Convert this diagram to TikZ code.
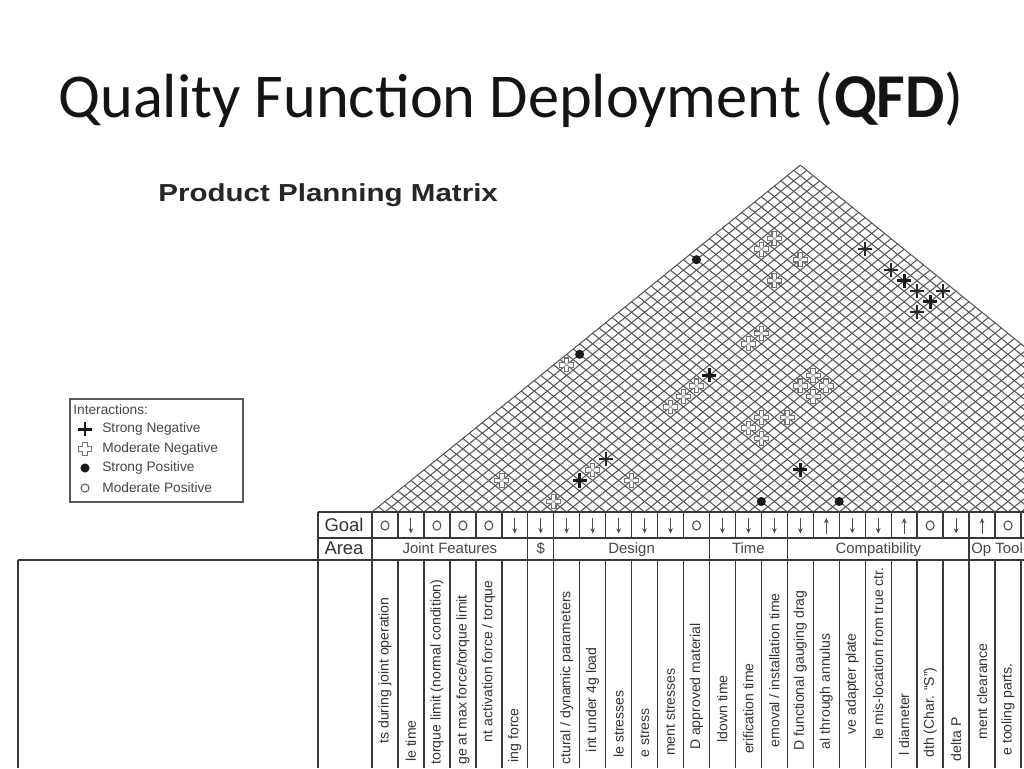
\documentclass[tikz,border=0pt]{standalone}
\usepackage{fontspec}
\setmainfont{Liberation Sans}
\newfontfamily\titlefont{Carlito}
\usetikzlibrary{arrows.meta}
\tikzset{
  grid/.style={draw=black!78, line width=0.8pt},
  lattice/.style={draw=black!66, line width=0.6pt},
  goalsym/.style={draw=black!70, line width=0.6pt},
  goalarrow/.style={draw=black!70, line width=0.6pt, -{Stealth[length=3pt,width=2.6pt]}},
  bodytext/.style={rotate=90, anchor=east, inner sep=0pt, text=black!80, font=\fontsize{8}{9}\selectfont},
  bodytextlow/.style={bodytext, anchor=west},
  areatext/.style={anchor=base, inner sep=0pt, text=black!72, font=\fontsize{8.5}{9}\selectfont},
  labeltext/.style={anchor=base, inner sep=0pt, text=black!80, font=\fontsize{10.5}{11}\selectfont},
  legendtext/.style={anchor=west, inner sep=0pt, text=black!72, font=\fontsize{7.8}{8}\selectfont},
  mnegline/.style={draw=black!55, fill=white, fill opacity=0.5, line width=0.6pt},
  pics/mneg/.style={code={\draw[mnegline] (-1.3pt,-3.9pt) -- (1.3pt,-3.9pt) -- (1.3pt,-1.3pt) -- (3.9pt,-1.3pt) -- (3.9pt,1.3pt) -- (1.3pt,1.3pt) -- (1.3pt,3.9pt) -- (-1.3pt,3.9pt) -- (-1.3pt,1.3pt) -- (-3.9pt,1.3pt) -- (-3.9pt,-1.3pt) -- (-1.3pt,-1.3pt) -- cycle;}},
  pics/snegbold/.style={code={\draw[black!90, line width=1.7pt] (-4pt,0) -- (4pt,0) (0,-4pt) -- (0,4pt);}},
  pics/snegthin/.style={code={\draw[black!85, line width=1.1pt] (-4pt,0) -- (4pt,0) (0,-4pt) -- (0,4pt);}},
  pics/spos/.style={code={\fill[black!90] (0,0) circle (2.6pt);}},
  pics/mpos/.style={code={\draw[black!65, line width=0.6pt] (0,0) circle (2.3pt);}},
}
\begin{document}
\begin{tikzpicture}[x=0.02cm, y=-0.02cm]
\useasboundingbox (0,0) rectangle (1024,768);
\fill[white] (0,0) rectangle (1024,768);
\begin{scope}
\clip (0,0) rectangle (1024,768);

% Title
\node[anchor=base west, inner sep=0pt, text=black!92, font=\titlefont\fontsize{35.5}{38}\selectfont] (title) at (58,117) {Quality Function Deployment (\textbf{QFD})};
\node[anchor=base west, inner sep=0pt, xscale=1.2, text=black!85, font=\bfseries\fontsize{14}{16}\selectfont] (subtitle) at (158,201) {Product Planning Matrix};

% Legend
\draw[draw=black!65, line width=1.1pt] (70,399) rectangle (243,502);
\node[legendtext] (lg0) at (73,410) {Interactions:};
\pic at (85,429) {snegbold};
\node[legendtext] (lg1) at (102,429) {Strong Negative};
\pic at (85,449) {mneg};
\node[legendtext] (lg2) at (102,449) {Moderate Negative};
\pic at (85,468) {spos};
\node[legendtext] (lg3) at (102,468) {Strong Positive};
\pic at (85,488) {mpos};
\node[legendtext] (lg4) at (102,488) {Moderate Positive};

% Roof lattice
\begin{scope}[shift={(372,512)}, x={(0.2596cm,0)}, y={(0,0.2103cm)}]
  \foreach \i in {0,...,66} {
    \draw[lattice] (\i,0) -- ({(66+\i)/2},{(66-\i)/2});
    \draw[lattice] (\i,0) -- ({\i/2},{\i/2});
  }
  % strong positive
  \foreach \p/\q in {30/1, 36/1, 25/24, 16/15} { \pic at (\p,\q) {spos}; }
  % moderate negative
  \foreach \p/\q in {14/1, 10/3, 17/4, 20/3, 15/14, 23/10, 24/11, 25/12, 30/9, 29/8, 30/7, 32/9, 34/13, 35/12, 34/11, 33/12, 30/17, 29/16, 30/25, 31/26, 33/24, 31/22} { \pic at (\p,\q) {mneg}; }
  % strong negative
  \foreach \p/\q in {41/22, 43/20, 26/13, 33/4, 16/3} { \pic at (\p,\q) {snegbold}; }
  \foreach \p/\q in {38/25, 40/23, 42/21, 44/21, 42/19, 18/5} { \pic at (\p,\q) {snegthin}; }
\end{scope}

% Grid lines
\draw[grid] (318,512) -- (1024,512);
\draw[grid] (318,538) -- (1024,538);
\draw[grid] (18,560) -- (1024,560);
\draw[grid] (18,560) -- (18,768);
\draw[grid] (318,512) -- (318,768);
\foreach \c in {0,...,25} {
  \draw[grid] ({372+25.96*\c},512) -- ({372+25.96*\c},538);
  \draw[grid] ({372+25.96*\c},560) -- ({372+25.96*\c},768);
}
\foreach \c in {0,6,7,13,16,23} {
  \draw[grid] ({372+25.96*\c},538) -- ({372+25.96*\c},560);
}

% Row labels
\node[labeltext] (goal) at (344,531) {Goal};
\node[labeltext] (area) at (344,554) {Area};

% Goal symbols
\foreach \c in {1,3,4,5,13,22,25} { \draw[goalsym] ({372+25.96*(\c-0.5)},525.5) ellipse (4 and 4.6); }
\foreach \c in {2,6,7,8,9,10,11,12,14,15,16,17,19,20,23} { \draw[goalarrow] ({372+25.96*(\c-0.5)},518) -- ({372+25.96*(\c-0.5)},533.5); }
\foreach \c in {18,21,24} { \draw[goalarrow] ({372+25.96*(\c-0.5)},533.5) -- ({372+25.96*(\c-0.5)},518); }

% Area labels
\node[areatext] (a1) at (449.9,553.5) {Joint Features};
\node[areatext] (a2) at (540.7,553.5) {\$};
\node[areatext] (a3) at (631.6,553.5) {Design};
\node[areatext] (a4) at (748.4,553.5) {Time};
\node[areatext] (a5) at (878.3,553.5) {Compatibility};
\node[areatext, anchor=base west] (a6) at (971,553.5) {Op Tool};

% Column texts (rotated)
\node[bodytext] (t1) at (385.0,597) {ts during joint operation};
\node[bodytext] (t2) at (410.9,720) {le time};
\node[bodytextlow] (t3) at (436.9,765) {torque limit (normal condition)};
\node[bodytextlow] (t4) at (462.9,765) {ge at max force/torque limit};
\node[bodytext] (t5) at (488.8,580) {nt activation force / torque};
\node[bodytext] (t6) at (514.8,708) {ing force};
\node[bodytextlow] (t8) at (566.7,765) {ctural / dynamic parameters};
\node[bodytext] (t9) at (592.6,647) {int under 4g load};
\node[bodytext] (t10) at (618.6,690) {le stresses};
\node[bodytext] (t11) at (644.6,708) {e stress};
\node[bodytext] (t12) at (670.5,668) {ment stresses};
\node[bodytext] (t13) at (696.5,623) {D approved material};
\node[bodytext] (t14) at (722.4,675) {ldown time};
\node[bodytext] (t15) at (748.4,663) {erification time};
\node[bodytext] (t16) at (774.4,593) {emoval / installation time};
\node[bodytext] (t17) at (800.3,590) {D functional gauging drag};
\node[bodytext] (t18) at (826.3,633) {al through annulus};
\node[bodytext] (t19) at (852.2,633) {ve adapter plate};
\node[bodytext] (t20) at (878.2,567) {le mis-location from true ctr.};
\node[bodytext] (t21) at (904.2,693) {l diameter};
\node[bodytext] (t22) at (930.1,667) {dth (Char. “S”)};
\node[bodytext] (t23) at (956.1,717) {delta P};
\node[bodytext] (t24) at (982.0,643) {ment clearance};
\node[bodytext] (t25) at (1008.0,663) {e tooling parts.};
\end{scope}
\end{tikzpicture}
\end{document}
